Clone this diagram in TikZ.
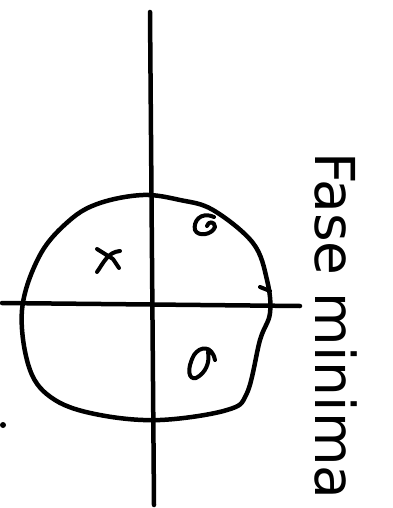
\documentclass[tikz,border=0pt]{standalone}
\usepackage{fontspec}
\setsansfont{DejaVu Sans}
\usepackage{tikz}
\usetikzlibrary{positioning, calc}

\tikzset{
  ink/.style={line width=4.5pt, line cap=round, line join=round},
  pzstroke/.style={line width=4pt, line cap=round, line join=round}
}

\begin{document}
\begin{tikzpicture}[x=1pt, y=-1pt]
  \useasboundingbox (0,0) rectangle (392,508);

  % axes
  \coordinate (imtop) at (150,12);
  \coordinate (imbot) at (154,505);
  \coordinate (releft) at (2,303);
  \coordinate (reright) at (300,306);
  \draw[ink] (imtop) -- (imbot);
  \draw[ink] (releft) -- (reright);

  % unit circle
  \draw[ink] plot[smooth cycle, tension=0.6] coordinates {
    (143,195) (180,200) (213,210) (253,243) (267,280) (270,313)
    (260,340) (247,393) (227,410) (160,420) (100,415) (55,400)
    (30,370) (22,310) (40,255) (70,220) (100,203)};

  % zero and poles
  \draw[pzstroke] (97,249) -- (113,259) (120,251) .. controls (108,252) and (104,262) .. (97,272)
    (113,259) -- (119,268);
  \draw[pzstroke] (214,217) .. controls (200,211) and (193,222) .. (195,230)
    .. controls (198,237) and (212,235) .. (215,227) .. controls (215,221) and (208,221) .. (207,226);
  \draw[pzstroke] (215,360) .. controls (212,345) and (200,346) .. (194,355)
    .. controls (186,370) and (189,380) .. (196,378) .. controls (206,373) and (210,362) .. (208,352);
  \draw[pzstroke] (260,287) -- (270,291);
  \fill (3,425) circle (3pt);

  % label
  \node[rotate=-90, font=\sffamily\fontsize{55}{55}\selectfont] (label) at (336,326) {Fase minima};
\end{tikzpicture}
\end{document}
